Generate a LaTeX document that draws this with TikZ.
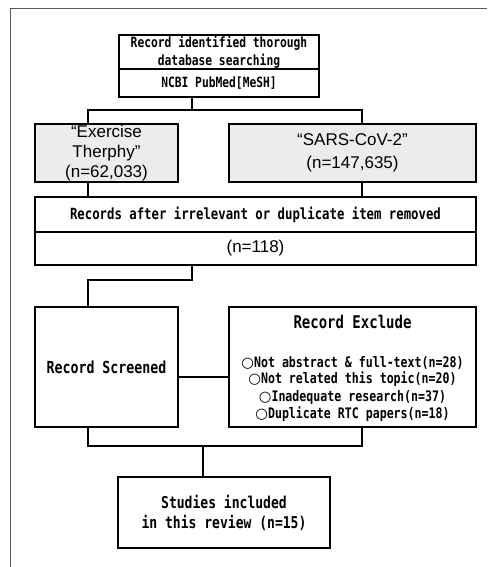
\documentclass[tikz,border=0pt]{standalone}
\usepackage{fontspec}
\setmainfont{Liberation Sans}
\newfontfamily\gul[FakeStretch=0.8]{DejaVu Sans Mono}
\newfontfamily\symfont{DejaVu Sans}
\newcommand\gulsize[2]{\gul\bfseries\fontsize{#1}{#2}\selectfont}
\newcommand\arsize[2]{\rmfamily\fontsize{#1}{#2}\selectfont}
\newcommand\ring{{\symfont\bfseries ○}}
\usetikzlibrary{calc,positioning}

\tikzset{
    box/.style={draw, line width=1.8pt, inner sep=0pt, align=center},
    shaded/.style={box, fill=gray!15},
    link/.style={line width=1.8pt}
}

\begin{document}
\begin{tikzpicture}[x=1pt,y=-1pt]
        \useasboundingbox (0,0) rectangle (487,567);
        % outer frame, only top and left sides
        \draw[gray!70!black, line width=1pt] (487,9) -- (10,9) -- (10,567);

        % boxes
        \node[box, minimum width=200pt, minimum height=34pt, font=\gulsize{14.1}{18}] (top1) at (219,52) {Record identified thorough\\database searching};
        \node[box, minimum width=200pt, minimum height=28pt, font=\gulsize{14.1}{18}] (top2) at (219,83) {NCBI PubMed[MeSH]};

        \node[shaded, minimum width=143pt, minimum height=58pt, font=\arsize{17}{20}] (exer) at (106.5,153) {“Exercise\\Therphy”\\(n=62,033)};
        \node[shaded, minimum width=247pt, minimum height=58pt, font=\arsize{17}{23}] (sars) at (352.5,153) {“SARS-CoV-2”\\(n=147,635)};

        \node[box, minimum width=441pt, minimum height=35pt, font=\gulsize{15.4}{18}] (rec1) at (255.5,214.5) {Records after irrelevant or duplicate item removed};
        \node[box, minimum width=441pt, minimum height=33pt, font=\arsize{17}{20}] (rec2) at (255.5,248.5) {(n=118)};

        \node[box, minimum width=143pt, minimum height=120pt, font=\gulsize{16.6}{20}] (screen) at (106.5,367) {Record Screened};
        \node[box, minimum width=247pt, minimum height=120pt] (excl) at (352.5,367) {};
        \node[font=\gulsize{17.5}{20}] (exclT) at (352.5,322) {Record Exclude};
        \foreach \y/\item [count=\i] in {363/{Not abstract \& full-text(n=28)}, 379/{Not related this topic(n=20)}, 397/{Inadequate research(n=37)}, 414/{Duplicate RTC papers(n=18)}}{
            \node[font=\gulsize{14.5}{17}] (item\i) at (352.5,\y) {\ring\item};
        }

        \node[box, minimum width=212pt, minimum height=71pt, font=\gulsize{16.3}{20}] (studies) at (224,512.5) {Studies included\\in this review (n=15)};

        % junction points of the connectors
        \coordinate (jT) at (192,110);
        \coordinate (jL) at (88,110);
        \coordinate (jR) at (362,110);
        \coordinate (kT) at (192,280);
        \coordinate (kL) at (88,280);
        \coordinate (m) at (0,377);
        \coordinate (bL) at (88,446);
        \coordinate (bR) at (362,446);
        \coordinate (bM) at (203,446);

        % connectors
        \draw[link] (jT |- top2.south) -- (jT);
        \draw[link] (jL |- exer.north) -- (jL) -- (jR) -- (jR |- sars.north);
        \draw[link] (jL |- exer.south) -- (jL |- rec1.north);
        \draw[link] (jR |- sars.south) -- (jR |- rec1.north);
        \draw[link] (kT |- rec2.south) -- (kT) -- (kL) -- (kL |- screen.north);
        \draw[link] (screen.east |- m) -- (excl.west |- m);
        \draw[link] (bL |- screen.south) -- (bL) -- (bR) -- (bR |- excl.south);
        \draw[link] (bM) -- (bM |- studies.north);

    \end{tikzpicture}
\end{document}
